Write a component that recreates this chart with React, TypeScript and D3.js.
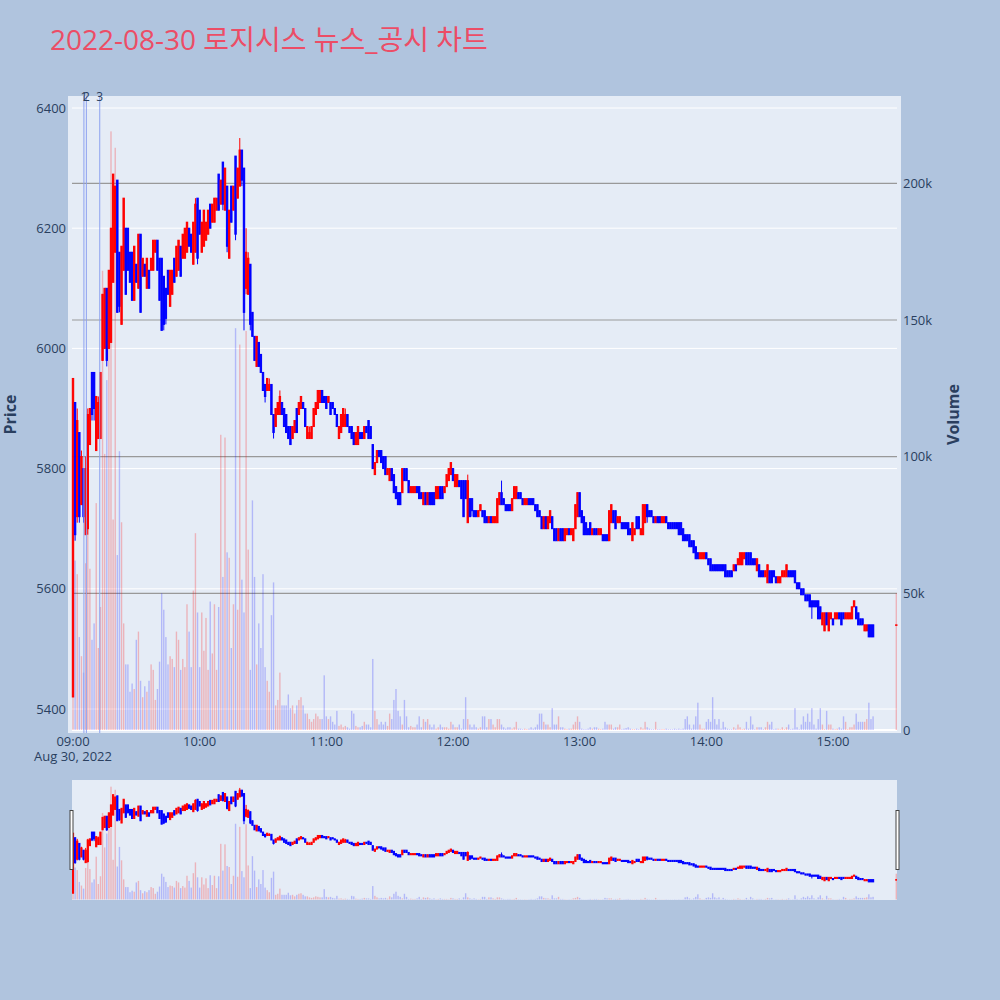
import * as d3 from "d3";
import { useEffect, useRef } from "react";

// 1-minute candles 09:00 .. 15:19, then the 15:30 closing auction (last entry)
const opens = [
  5420,5910,5720,5860,5740,5800,5690,5700,5840,5960,
  5960,5830,5850,5850,5980,6000,6100,6000,6010,6110,
  6160,6280,6160,6040,6130,6200,6200,6160,6160,6080,
  6140,6100,6190,6120,6140,6100,6130,6130,6130,6160,
  6180,6150,6150,6120,6100,6130,6070,6090,6150,6120,
  6130,6170,6150,6150,6160,6200,6190,6140,6160,6250,
  6230,6160,6170,6180,6190,6240,6210,6210,6230,6290,
  6240,6310,6230,6270,6150,6270,6230,6320,6250,6270,
  6330,6300,6100,6090,6140,6060,6020,5970,6010,5990,
  5960,5940,5930,5930,5940,5890,5870,5890,5890,5910,
  5900,5890,5870,5870,5850,5860,5900,5890,5900,5910,
  5900,5850,5850,5850,5870,5890,5900,5910,5930,5920,
  5920,5910,5910,5910,5900,5890,5850,5860,5870,5870,
  5890,5870,5870,5860,5840,5840,5860,5860,5850,5870,
  5880,5870,5840,5790,5810,5830,5830,5820,5820,5790,
  5780,5800,5790,5770,5760,5760,5760,5800,5800,5780,
  5760,5760,5760,5770,5770,5760,5740,5760,5740,5760,
  5760,5760,5750,5750,5770,5770,5760,5770,5780,5790,
  5800,5770,5770,5780,5780,5780,5780,5710,5750,5750,
  5730,5730,5720,5730,5730,5730,5720,5710,5720,5710,
  5710,5710,5740,5760,5750,5740,5740,5740,5730,5750,
  5750,5760,5760,5750,5740,5740,5750,5750,5750,5740,
  5740,5730,5720,5700,5720,5700,5710,5720,5700,5700,
  5680,5700,5700,5680,5690,5700,5690,5680,5700,5720,
  5760,5730,5720,5710,5700,5710,5690,5700,5700,5690,
  5690,5690,5690,5690,5680,5710,5730,5730,5710,5710,
  5710,5710,5710,5710,5700,5680,5690,5720,5720,5690,
  5690,5710,5740,5730,5730,5720,5710,5720,5720,5710,
  5710,5720,5710,5710,5710,5710,5710,5710,5710,5700,
  5690,5690,5690,5680,5680,5670,5660,5650,5650,5650,
  5660,5650,5650,5640,5640,5640,5640,5640,5640,5640,
  5630,5630,5630,5630,5640,5640,5640,5640,5650,5660,
  5660,5660,5650,5650,5630,5640,5630,5630,5620,5610,
  5630,5630,5630,5620,5610,5610,5620,5620,5620,5630,
  5630,5630,5630,5610,5610,5600,5600,5590,5590,5590,
  5580,5580,5580,5580,5570,5540,5530,5560,5530,5550,
  5550,5550,5550,5560,5560,5560,5550,5550,5550,5550,
  5570,5570,5560,5550,5550,5530,5530,5540,5540,5540,
  5540,
];

const highs = [
  5950,5910,5900,5860,5830,5800,5820,5900,5900,5960,
  5960,5920,5920,5960,6090,6100,6100,6130,6200,6290,
  6270,6280,6160,6170,6250,6200,6200,6160,6160,6170,
  6140,6190,6190,6150,6140,6150,6130,6150,6180,6180,
  6180,6150,6150,6120,6100,6130,6130,6130,6150,6170,
  6180,6170,6190,6200,6210,6200,6190,6210,6250,6250,
  6230,6210,6230,6210,6230,6240,6240,6250,6250,6290,
  6280,6310,6300,6270,6230,6270,6270,6320,6300,6350,
  6330,6300,6200,6160,6140,6060,6020,6020,6010,5990,
  5960,5940,5950,5950,5940,5890,5900,5910,5930,5910,
  5900,5890,5870,5870,5870,5880,5900,5910,5920,5910,
  5900,5870,5870,5870,5900,5910,5930,5930,5930,5920,
  5920,5920,5910,5910,5900,5890,5870,5890,5900,5900,
  5890,5870,5870,5860,5860,5870,5860,5860,5870,5870,
  5880,5870,5840,5810,5830,5830,5830,5820,5820,5800,
  5800,5800,5790,5770,5760,5760,5800,5800,5800,5780,
  5770,5770,5770,5770,5770,5760,5760,5760,5760,5760,
  5760,5760,5770,5770,5770,5770,5770,5790,5800,5810,
  5800,5790,5790,5780,5780,5780,5780,5790,5750,5750,
  5730,5730,5730,5740,5730,5730,5720,5720,5720,5720,
  5720,5750,5760,5780,5750,5740,5740,5740,5750,5770,
  5770,5760,5760,5750,5750,5750,5750,5750,5750,5740,
  5740,5730,5720,5720,5720,5720,5730,5720,5700,5700,
  5700,5700,5700,5700,5700,5700,5700,5700,5740,5760,
  5760,5730,5720,5710,5700,5710,5700,5700,5700,5700,
  5700,5690,5690,5690,5730,5740,5730,5730,5720,5720,
  5710,5710,5710,5710,5700,5710,5700,5720,5720,5700,
  5740,5740,5740,5730,5730,5720,5720,5720,5720,5720,
  5720,5720,5710,5710,5710,5710,5710,5710,5710,5700,
  5690,5690,5690,5680,5680,5670,5660,5660,5660,5660,
  5660,5650,5650,5640,5640,5640,5640,5640,5640,5640,
  5630,5630,5630,5640,5640,5650,5660,5660,5660,5660,
  5660,5660,5650,5650,5650,5640,5630,5630,5630,5640,
  5630,5630,5630,5620,5620,5620,5630,5630,5640,5630,
  5630,5630,5630,5610,5610,5600,5600,5590,5590,5590,
  5580,5580,5580,5580,5570,5560,5560,5560,5560,5560,
  5550,5560,5560,5560,5560,5560,5560,5560,5560,5570,
  5580,5570,5560,5550,5550,5540,5540,5540,5540,5540,
  5540,
];

const lows = [
  5420,5680,5710,5710,5740,5710,5690,5690,5840,5880,
  5880,5830,5850,5850,5980,6000,5970,6000,6010,6110,
  6160,6060,6060,6040,6130,6090,6130,6110,6080,6080,
  6110,6100,6060,6120,6120,6100,6100,6130,6130,6160,
  6130,6080,6030,6030,6040,6090,6070,6090,6110,6120,
  6130,6120,6150,6150,6160,6170,6160,6140,6160,6140,
  6190,6160,6170,6180,6190,6200,6210,6210,6230,6230,
  6240,6230,6230,6160,6150,6210,6230,6180,6250,6270,
  6270,6030,6090,6090,6030,6020,5980,5970,5970,5960,
  5930,5910,5930,5930,5890,5850,5870,5890,5890,5890,
  5870,5860,5850,5840,5850,5860,5860,5890,5900,5900,
  5870,5850,5850,5850,5870,5890,5900,5910,5910,5910,
  5900,5910,5890,5900,5890,5870,5850,5860,5870,5870,
  5870,5860,5850,5840,5840,5840,5850,5850,5850,5860,
  5850,5850,5800,5790,5810,5820,5810,5800,5790,5790,
  5780,5780,5760,5750,5740,5740,5760,5780,5780,5760,
  5760,5760,5760,5760,5750,5750,5740,5740,5740,5740,
  5740,5740,5750,5750,5750,5750,5760,5770,5780,5790,
  5780,5770,5770,5770,5750,5720,5750,5710,5720,5720,
  5720,5720,5720,5730,5720,5710,5710,5710,5710,5710,
  5710,5710,5740,5740,5740,5730,5730,5730,5730,5750,
  5750,5750,5750,5740,5740,5740,5740,5740,5740,5730,
  5720,5720,5700,5700,5700,5700,5710,5700,5680,5680,
  5680,5680,5680,5680,5690,5690,5690,5680,5700,5720,
  5720,5710,5690,5690,5690,5690,5690,5690,5690,5690,
  5690,5680,5680,5680,5680,5710,5710,5700,5710,5710,
  5700,5700,5700,5690,5690,5680,5690,5700,5700,5690,
  5690,5710,5710,5720,5720,5710,5710,5710,5710,5710,
  5710,5710,5700,5700,5700,5700,5700,5690,5690,5680,
  5680,5680,5670,5670,5660,5650,5650,5650,5650,5650,
  5650,5640,5630,5630,5630,5630,5630,5630,5630,5620,
  5620,5620,5620,5630,5630,5640,5640,5640,5650,5640,
  5640,5640,5640,5640,5630,5620,5620,5620,5620,5610,
  5610,5610,5620,5610,5610,5610,5620,5620,5620,5620,
  5620,5620,5610,5600,5600,5590,5590,5580,5580,5570,
  5550,5570,5570,5550,5550,5540,5530,5540,5530,5550,
  5540,5550,5550,5550,5540,5550,5550,5550,5550,5550,
  5570,5550,5540,5540,5540,5530,5530,5520,5520,5520,
  5540,
];

const closes = [
  5950,5690,5880,5720,5820,5720,5800,5890,5900,5890,
  5900,5920,5910,5960,6090,6100,5980,6130,6200,6290,
  6270,6060,6070,6170,6250,6090,6130,6110,6080,6170,
  6110,6190,6060,6150,6120,6150,6100,6150,6180,6180,
  6130,6080,6030,6040,6050,6090,6130,6130,6110,6170,
  6180,6120,6190,6200,6210,6170,6160,6210,6240,6150,
  6190,6210,6230,6210,6230,6200,6240,6250,6250,6230,
  6280,6240,6300,6170,6230,6210,6270,6190,6300,6330,
  6280,6060,6160,6150,6040,6020,5980,6020,5970,5960,
  5930,5920,5950,5940,5890,5860,5900,5910,5920,5890,
  5870,5860,5850,5840,5870,5880,5860,5910,5920,5900,
  5870,5870,5860,5870,5900,5910,5930,5930,5910,5910,
  5900,5920,5890,5900,5890,5870,5870,5890,5900,5890,
  5870,5860,5850,5840,5860,5870,5850,5850,5870,5860,
  5850,5850,5800,5810,5830,5820,5810,5800,5790,5800,
  5800,5780,5760,5750,5740,5740,5800,5780,5780,5760,
  5770,5770,5770,5760,5750,5750,5760,5740,5760,5740,
  5740,5740,5770,5770,5750,5750,5770,5790,5800,5810,
  5780,5790,5790,5770,5750,5720,5750,5780,5720,5730,
  5720,5720,5730,5740,5720,5710,5710,5720,5710,5720,
  5720,5750,5760,5740,5740,5730,5730,5730,5750,5770,
  5770,5750,5750,5740,5750,5750,5740,5740,5740,5730,
  5720,5720,5700,5720,5700,5720,5730,5700,5680,5680,
  5700,5680,5680,5700,5700,5690,5700,5700,5740,5760,
  5720,5710,5690,5690,5690,5690,5700,5690,5690,5700,
  5700,5680,5680,5680,5730,5740,5710,5700,5720,5720,
  5700,5700,5700,5690,5690,5710,5700,5700,5700,5700,
  5740,5740,5720,5720,5720,5710,5720,5710,5710,5720,
  5720,5710,5700,5700,5700,5700,5700,5690,5690,5680,
  5680,5680,5670,5670,5660,5650,5650,5660,5660,5660,
  5650,5640,5630,5630,5630,5630,5630,5630,5630,5620,
  5620,5620,5620,5640,5630,5650,5660,5660,5660,5640,
  5640,5640,5640,5640,5650,5620,5620,5620,5630,5640,
  5610,5610,5620,5610,5620,5620,5630,5630,5640,5620,
  5620,5620,5610,5600,5600,5590,5590,5580,5580,5570,
  5570,5570,5570,5550,5550,5560,5560,5540,5560,5560,
  5540,5560,5560,5550,5540,5550,5560,5560,5560,5570,
  5580,5550,5540,5540,5540,5540,5540,5520,5520,5520,
  5540,
];

// traded volume, thousands of shares
const volumesK = [
  12,62,57,34,27,21,61,80,59,33,
  39,83,30,45,168,101,128,147,219,77,
  213,64,102,76,39,24,24,14,17,15,
  33,36,18,12,16,14,18,24,22,11,
  15,25,50,44,34,24,27,26,23,36,
  33,22,26,23,46,36,23,51,72,43,
  23,43,29,41,22,47,28,46,22,45,
  108,56,107,65,63,30,46,147,44,141,
  55,43,146,66,22,84,56,24,39,30,
  57,23,18,14,42,54,9,11,21,9,
  9,9,13,8,9,6,9,11,12,9,
  6,6,4,3,4,6,5,4,4,20,
  5,4,5,3,2,7,1.5,2,1,1.5,
  1,0.5,7,6,1.5,1,1,1.5,3,2,
  2,1,26,7,4,2,3,2,3,1.5,
  6,4,11,15,7,5,2,11,5,1,
  1.5,1,1,2,5,1,4,3,4,2,
  1,2,0.5,1,2,1,1,1,0.5,3,
  2,1,1,2,0.5,4,12,4,2,1,
  2,1,0.5,1,5,5,1,4,4,2,
  1,4,4,2,1,0.5,1,1,0.5,1,
  3,0.5,0.5,0.3,0.5,0.3,0.5,1,0.5,1,
  2,6,6,3,2,2,1,8,2,2,
  5,1,1,0.5,0.3,0.5,0.5,2,3,5,
  3,0.5,0.3,0.3,0.5,1,0.5,1,1,0.5,
  0.3,0.5,3,2,2,2,0.5,1,1,2,
  0.3,0.5,0.7,1,0.5,0.3,0.3,0.5,0.3,1,
  0.5,3,1,0.5,0.3,0.3,3,0.3,0.3,0.3,
  0.3,0.5,0.3,0.3,0.3,0.5,0.3,0.5,0.3,0.5,
  4,5,2,0.5,2,5,10,2,0.5,0.5,
  3,4,3,12,4,2,4,0.5,3,1,
  0.5,0.3,0.3,1,0.5,2,1,0.3,0.5,3,
  0.5,5,2,0.3,1,1,1,0.3,1,3,
  2,3,0.3,0.5,0.5,0.3,1,0.3,1,2,
  0.3,0.5,8,1,0.3,2,5,3,6,3,
  8,2,0.5,4,8,2,0.3,7,2,2,
  0.5,0.3,0.5,1,0.5,5,3,0.3,1,1,
  2,6,3,3,3,3,4,10,4,5,
  50,
];

const sessionStart = "09:00";
const closingAuction = "15:30";
const newsLabels = ["1", "2", "3"];
const newsTimes = ["09:05:10", "09:06:20", "09:12:40"];
const priceTicks = [5400, 5600, 5800, 6000, 6200, 6400];
const volumeTicks = [0, 50, 100, 150, 200];
const hourTicks = ["09:00", "10:00", "11:00", "12:00", "13:00", "14:00", "15:00"];

const UP = "#ff0000";
const DOWN = "#0000ff";
const FONT = "'Open Sans', 'Noto Sans', sans-serif";
const TEXT = "#2a3f5f";

const at = (hms: string) => {
  const [h, m, s] = hms.split(":").map(Number);
  return new Date(2022, 7, 30, h, m, s || 0);
};

const App = () => {
  const ref = useRef<SVGSVGElement | null>(null);

  useEffect(() => {
    if (!ref.current) return;
    const svg = d3.select(ref.current);
    svg.selectAll("*").remove();

    const start = at(sessionStart);
    const n = closes.length;
    const times = closes.map((_, i) =>
      i === n - 1 ? at(closingAuction) : d3.timeMinute.offset(start, i)
    );
    const rows = times.map((t, i) => ({
      t,
      o: opens[i],
      h: highs[i],
      l: lows[i],
      c: closes[i],
      v: volumesK[i] ?? 0,
      up: closes[i] >= opens[i],
    }));

    const plot = { left: 68, right: 901, top: 96, bottom: 733 };
    const inner = { left: 72, right: 897 };

    const x = d3.scaleTime().domain([start, at(closingAuction)]).range([73, 896.3]);
    const y = d3.scaleLinear().domain([5400, 6400]).range([709, 108]);
    const yv = d3.scaleLinear().domain([0, 200]).range([730, 183.3]);

    svg.append("rect").attr("width", 1000).attr("height", 1000).attr("fill", "#b0c4de");

    // title
    svg
      .append("text")
      .attr("x", 50)
      .attr("y", 50)
      .attr("font-family", "'Open Sans', 'Noto Sans CJK KR', sans-serif")
      .attr("font-size", 28)
      .attr("fill", "#ec4d66")
      .text("2022-08-30 로지시스 뉴스_공시 차트");

    svg
      .append("rect")
      .attr("x", plot.left)
      .attr("y", plot.top)
      .attr("width", plot.right - plot.left)
      .attr("height", plot.bottom - plot.top)
      .attr("fill", "#e5ecf6");

    const defs = svg.append("defs");
    defs
      .append("clipPath")
      .attr("id", "main-clip")
      .append("rect")
      .attr("x", plot.left)
      .attr("y", plot.top)
      .attr("width", plot.right - plot.left)
      .attr("height", plot.bottom - plot.top);

    // grids
    svg
      .append("g")
      .selectAll("line")
      .data(priceTicks)
      .join("line")
      .attr("x1", inner.left)
      .attr("x2", inner.right)
      .attr("y1", (d) => y(d))
      .attr("y2", (d) => y(d))
      .attr("stroke", "#fff")
      .attr("stroke-width", 1);

    svg
      .append("g")
      .selectAll("line")
      .data(volumeTicks.filter((d) => d > 0))
      .join("line")
      .attr("x1", inner.left)
      .attr("x2", inner.right)
      .attr("y1", (d) => yv(d))
      .attr("y2", (d) => yv(d))
      .attr("stroke", "#999")
      .attr("stroke-width", 1.2);

    const drawMarks = (
      g: d3.Selection<SVGGElement, unknown, null, undefined>,
      py: (v: number) => number,
      vy: (v: number) => number,
      bodyW: number,
      barW: number
    ) => {
      const candles = g.append("g");
      rows.forEach((d) => {
        const cx = x(d.t);
        const col = d.up ? UP : DOWN;
        candles
          .append("line")
          .attr("x1", cx)
          .attr("x2", cx)
          .attr("y1", py(d.h))
          .attr("y2", py(d.l))
          .attr("stroke", col)
          .attr("stroke-width", 1);
        const top = py(Math.max(d.o, d.c));
        const bot = py(Math.min(d.o, d.c));
        candles
          .append("rect")
          .attr("x", cx - bodyW / 2)
          .attr("y", top)
          .attr("width", bodyW)
          .attr("height", Math.max(0.5, bot - top))
          .attr("fill", col)
          .attr("stroke", col)
          .attr("stroke-width", 1);
      });
      g.append("g")
        .selectAll("rect")
        .data(rows)
        .join("rect")
        .attr("x", (d) => x(d.t) - barW / 2)
        .attr("width", barW)
        .attr("y", (d) => vy(d.v))
        .attr("height", (d) => Math.max(0, vy(0) - vy(d.v)))
        .attr("fill", (d) => (d.up ? "rgba(255,0,0,0.24)" : "rgba(0,0,255,0.22)"));
    };

    const main = svg.append("g").attr("clip-path", "url(#main-clip)");
    main
      .append("line")
      .attr("x1", inner.left)
      .attr("x2", inner.right)
      .attr("y1", yv(0))
      .attr("y2", yv(0))
      .attr("stroke", "#fff")
      .attr("stroke-width", 2);
    drawMarks(main, y, yv, 1.4, 1.4);

    // news markers
    const news = svg.append("g");
    newsTimes.forEach((tm, i) => {
      const nx = x(at(tm));
      news
        .append("line")
        .attr("x1", nx)
        .attr("x2", nx)
        .attr("y1", plot.top)
        .attr("y2", plot.bottom)
        .attr("stroke", "#8ea2f0")
        .attr("stroke-width", 1);
      news
        .append("text")
        .attr("x", nx)
        .attr("y", 100.5)
        .attr("text-anchor", "middle")
        .attr("font-family", FONT)
        .attr("font-size", 12)
        .attr("fill", TEXT)
        .text(newsLabels[i]);
    });

    // axes labels
    const tickText = (sel: d3.Selection<SVGGElement, unknown, null, undefined>) =>
      sel.attr("font-family", FONT).attr("font-size", 13).attr("fill", TEXT);

    tickText(svg.append("g"))
      .selectAll("text")
      .data(priceTicks)
      .join("text")
      .attr("x", 66)
      .attr("y", (d) => y(d))
      .attr("dy", "0.35em")
      .attr("text-anchor", "end")
      .text((d) => String(d));

    tickText(svg.append("g"))
      .selectAll("text")
      .data(volumeTicks)
      .join("text")
      .attr("x", 903)
      .attr("y", (d) => yv(d))
      .attr("dy", "0.35em")
      .attr("text-anchor", "start")
      .text((d) => (d === 0 ? "0" : `${d}k`));

    tickText(svg.append("g"))
      .selectAll("text")
      .data(hourTicks)
      .join("text")
      .attr("x", (d) => x(at(d)))
      .attr("y", 746)
      .attr("text-anchor", "middle")
      .text((d) => d);

    tickText(svg.append("g"))
      .append("text")
      .attr("x", x(start))
      .attr("y", 761)
      .attr("text-anchor", "middle")
      .text(d3.timeFormat("%b %-d, %Y")(start));

    const axisTitle = (label: string, cx: number) =>
      svg
        .append("text")
        .attr("transform", `translate(${cx},${(plot.top + plot.bottom) / 2}) rotate(-90)`)
        .attr("text-anchor", "middle")
        .attr("dy", "0.35em")
        .attr("font-family", FONT)
        .attr("font-size", 16)
        .attr("font-weight", "bold")
        .attr("fill", TEXT)
        .text(label);
    axisTitle("Price", 10);
    axisTitle("Volume", 953.5);

    // range slider
    const rs = { top: 780, bottom: 900 };
    const k = (rs.bottom - rs.top) / (plot.bottom - plot.top);
    const ys = d3
      .scaleLinear()
      .domain([y.invert(plot.bottom), y.invert(plot.top)])
      .range([rs.bottom, rs.top]);
    const yvs = d3
      .scaleLinear()
      .domain([yv.invert(plot.bottom), yv.invert(plot.top)])
      .range([rs.bottom, rs.top]);

    svg
      .append("rect")
      .attr("x", inner.left)
      .attr("y", rs.top)
      .attr("width", inner.right - inner.left)
      .attr("height", rs.bottom - rs.top)
      .attr("fill", "#e5ecf6");
    defs
      .append("clipPath")
      .attr("id", "rs-clip")
      .append("rect")
      .attr("x", inner.left)
      .attr("y", rs.top)
      .attr("width", inner.right - inner.left)
      .attr("height", rs.bottom - rs.top);
    const slider = svg.append("g").attr("clip-path", "url(#rs-clip)");
    drawMarks(slider, ys, yvs, 1.2 + 0 * k, 1.4);

    [inner.left - 2, inner.right - 1].forEach((hx) => {
      svg
        .append("rect")
        .attr("x", hx)
        .attr("y", 810.5)
        .attr("width", 3)
        .attr("height", 59)
        .attr("fill", "#fff")
        .attr("stroke", "#444")
        .attr("stroke-width", 1);
    });
  }, []);

  return (
    <svg
      ref={ref}
      width={1000}
      height={1000}
      style={{ position: "absolute", left: 0, top: 0, display: "block" }}
    />
  );
};

export default App;
